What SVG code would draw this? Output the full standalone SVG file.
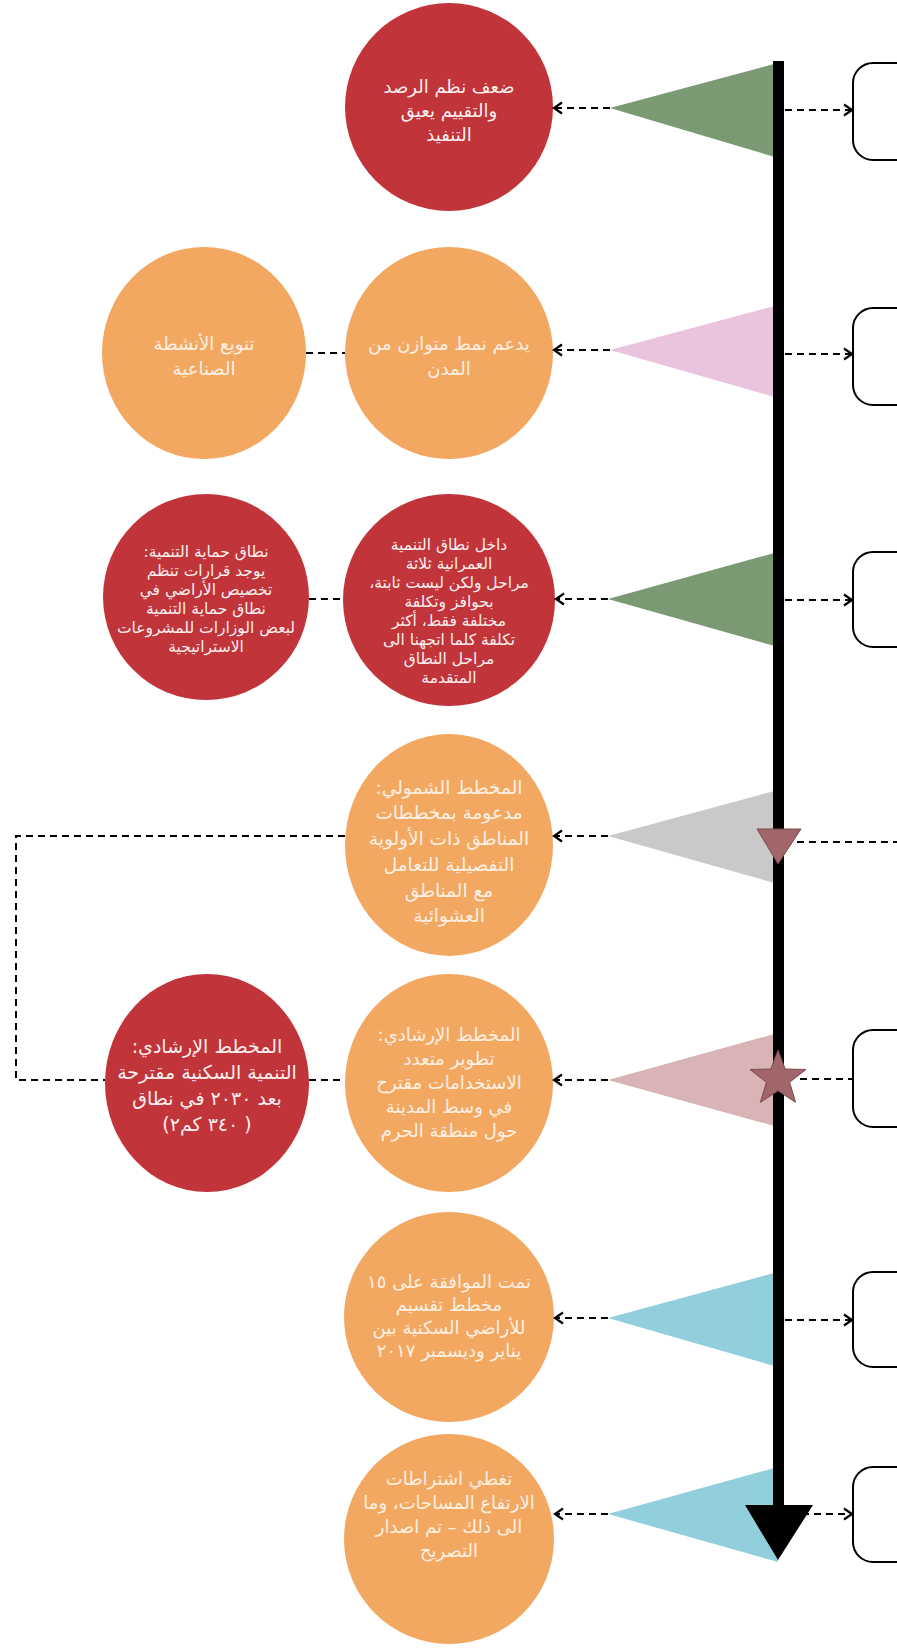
<svg xmlns="http://www.w3.org/2000/svg" width="897" height="1648" viewBox="0 0 897 1648">
<defs>
<style>
.red{fill:#C1343A}
.org{fill:#F3A862}
.t{font-family:"DejaVu Sans",sans-serif;text-anchor:middle;dominant-baseline:central;direction:rtl}
.tw{fill:#FBEFEF}
.to{fill:#FDF0E2}
.dash{fill:none;stroke:#000;stroke-width:2;stroke-dasharray:7 5}
.brk{fill:none;stroke:#000;stroke-width:2}
</style>
<marker id="chev" viewBox="0 0 14 14" refX="12" refY="7" markerWidth="14" markerHeight="14" markerUnits="userSpaceOnUse" orient="auto">
<path d="M4,1.5 L12,7 L4,12.5" fill="none" stroke="#000" stroke-width="2.2"/>
</marker>
</defs>
<rect width="897" height="1648" fill="#FFFFFF"/>

<g id="flags">
<polygon points="610,108 778,63 778,158" fill="#7B9A74"/>
<polygon points="610,350 778,305 778,398" fill="#EAC4DF"/>
<polygon points="608,599 778,552 778,647" fill="#7B9A74"/>
<polygon points="608,836 778,790 778,884" fill="#C9C9C9"/>
<polygon points="608,1080 778,1033 778,1127" fill="#D9B3B6"/>
<polygon points="608,1318 778,1272 778,1367" fill="#92CFDD"/>
<polygon points="608,1514 778,1467 778,1562" fill="#92CFDD"/>
</g>

<g id="brackets">
<rect class="brk" x="853" y="63" width="120" height="97" rx="20"/>
<rect class="brk" x="853" y="308" width="120" height="97" rx="20"/>
<rect class="brk" x="853" y="552" width="120" height="95" rx="20"/>
<rect class="brk" x="853" y="1030" width="120" height="97" rx="20"/>
<rect class="brk" x="853" y="1272" width="120" height="95" rx="20"/>
<rect class="brk" x="853" y="1467" width="120" height="95" rx="20"/>
</g>

<g id="n1">
<circle class="red" cx="449" cy="107" r="104"/>
<text class="t tw" font-size="18"><tspan x="449" y="86">ضعف نظم الرصد</tspan><tspan x="449" y="110">والتقييم يعيق</tspan><tspan x="449" y="134">التنفيذ</tspan></text>
</g>

<g id="n2a">
<ellipse class="org" cx="204" cy="353" rx="102" ry="106"/>
<text class="t to" font-size="18"><tspan x="204" y="343">تنويع الأنشطة</tspan><tspan x="204" y="368">الصناعية</tspan></text>
</g>

<g id="n2b">
<ellipse class="org" cx="449" cy="353" rx="104" ry="106"/>
<text class="t to" font-size="18"><tspan x="449" y="343">يدعم نمط متوازن من</tspan><tspan x="449" y="368">المدن</tspan></text>
</g>

<g id="n3a">
<circle class="red" cx="206" cy="597" r="103"/>
<text class="t tw" font-size="15.5"><tspan x="206" y="552">نطاق حماية التنمية:</tspan><tspan x="206" y="571">يوجد قرارات تنظم</tspan><tspan x="206" y="590">تخصيص الأراضي في</tspan><tspan x="206" y="609">نطاق حماية التنمية</tspan><tspan x="206" y="628">لبعض الوزارات للمشروعات</tspan><tspan x="206" y="647">الاستراتيجية</tspan></text>
</g>

<g id="n3b">
<circle class="red" cx="449" cy="600" r="106"/>
<text class="t tw" font-size="15.5"><tspan x="449" y="545">داخل نطاق التنمية</tspan><tspan x="449" y="564">العمرانية ثلاثة</tspan><tspan x="449" y="583">مراحل ولكن ليست ثابتة،</tspan><tspan x="449" y="602">بحوافز وتكلفة</tspan><tspan x="449" y="621">مختلفة فقط، أكثر</tspan><tspan x="449" y="640">تكلفة كلما اتجهنا الى</tspan><tspan x="449" y="659">مراحل النطاق</tspan><tspan x="449" y="678">المتقدمة</tspan></text>
</g>

<g id="n4">
<ellipse class="org" cx="449" cy="845" rx="104" ry="111"/>
<text class="t to" font-size="18.5"><tspan x="449" y="787">المخطط الشمولي:</tspan><tspan x="449" y="812">مدعومة بمخططات</tspan><tspan x="449" y="838">المناطق ذات الأولوية</tspan><tspan x="449" y="864">التفصيلية للتعامل</tspan><tspan x="449" y="890">مع المناطق</tspan><tspan x="449" y="915">العشوائية</tspan></text>
</g>

<g id="n5a">
<ellipse class="red" cx="207" cy="1083" rx="102" ry="109"/>
<text class="t tw" font-size="19"><tspan x="207" y="1046">المخطط الإرشادي:</tspan><tspan x="207" y="1072">التنمية السكنية مقترحة</tspan><tspan x="207" y="1098">بعد ٢٠٣٠ في نطاق</tspan><tspan x="207" y="1124">( ٣٤٠ كم٢)</tspan></text>
</g>

<g id="n5b">
<ellipse class="org" cx="449" cy="1083" rx="104" ry="109"/>
<text class="t to" font-size="18"><tspan x="449" y="1034">المخطط الإرشادي:</tspan><tspan x="449" y="1058">تطوير متعدد</tspan><tspan x="449" y="1082">الاستخدامات مقترح</tspan><tspan x="449" y="1106">في وسط المدينة</tspan><tspan x="449" y="1130">حول منطقة الحرم</tspan></text>
</g>

<g id="n6">
<circle class="org" cx="449" cy="1317" r="105"/>
<text class="t to" font-size="18"><tspan x="449" y="1281">تمت الموافقة على ١٥</tspan><tspan x="449" y="1304">مخطط تقسيم</tspan><tspan x="449" y="1327">للأراضي السكنية بين</tspan><tspan x="449" y="1350">يناير وديسمبر ٢٠١٧</tspan></text>
</g>

<g id="n7">
<circle class="org" cx="449" cy="1539" r="105"/>
<text class="t to" font-size="18"><tspan x="449" y="1478">تغطي اشتراطات</tspan><tspan x="449" y="1502">الارتفاع المساحات، وما</tspan><tspan x="449" y="1526">الى ذلك – تم اصدار</tspan><tspan x="449" y="1550">التصريح</tspan></text>
</g>

<g id="connectors">
<line class="dash" x1="785" y1="110" x2="852" y2="110" marker-end="url(#chev)"/>
<line class="dash" x1="610" y1="108" x2="554" y2="108" marker-end="url(#chev)"/>
<line class="dash" x1="785" y1="354" x2="852" y2="354" marker-end="url(#chev)"/>
<line class="dash" x1="610" y1="350" x2="554" y2="350" marker-end="url(#chev)"/>
<line class="dash" x1="306" y1="353" x2="345" y2="353"/>
<line class="dash" x1="785" y1="600" x2="852" y2="600" marker-end="url(#chev)"/>
<line class="dash" x1="608" y1="599" x2="556" y2="599" marker-end="url(#chev)"/>
<line class="dash" x1="309" y1="599" x2="343" y2="599"/>
<line class="dash" x1="797" y1="842" x2="897" y2="842"/>
<line class="dash" x1="608" y1="836" x2="554" y2="836" marker-end="url(#chev)"/>
<polyline class="dash" points="345,836 16,836 16,1080 105,1080"/>
<line class="dash" x1="309" y1="1080" x2="345" y2="1080"/>
<line class="dash" x1="800" y1="1079" x2="853" y2="1079"/>
<line class="dash" x1="608" y1="1080" x2="554" y2="1080" marker-end="url(#chev)"/>
<line class="dash" x1="785" y1="1320" x2="852" y2="1320" marker-end="url(#chev)"/>
<line class="dash" x1="608" y1="1318" x2="555" y2="1318" marker-end="url(#chev)"/>
<line class="dash" x1="790" y1="1514" x2="852" y2="1514" marker-end="url(#chev)"/>
<line class="dash" x1="608" y1="1514" x2="555" y2="1514" marker-end="url(#chev)"/>
</g>

<g id="timeline">
<rect x="773" y="61" width="11" height="1450" fill="#000"/>
<polygon points="745,1505 813,1505 778,1560" fill="#000"/>
<polygon points="757,829 801,829 778,864" fill="#A0666A" stroke="#7A4A4E" stroke-width="1"/>
<polygon points="778,1050 785.2,1069 806,1069.5 789.6,1082.3 795.6,1102.3 778,1090.8 760.4,1102.3 766.4,1082.3 750,1069.5 770.8,1069" fill="#A0666A" stroke="#7A4A4E" stroke-width="1"/>
</g>
</svg>
